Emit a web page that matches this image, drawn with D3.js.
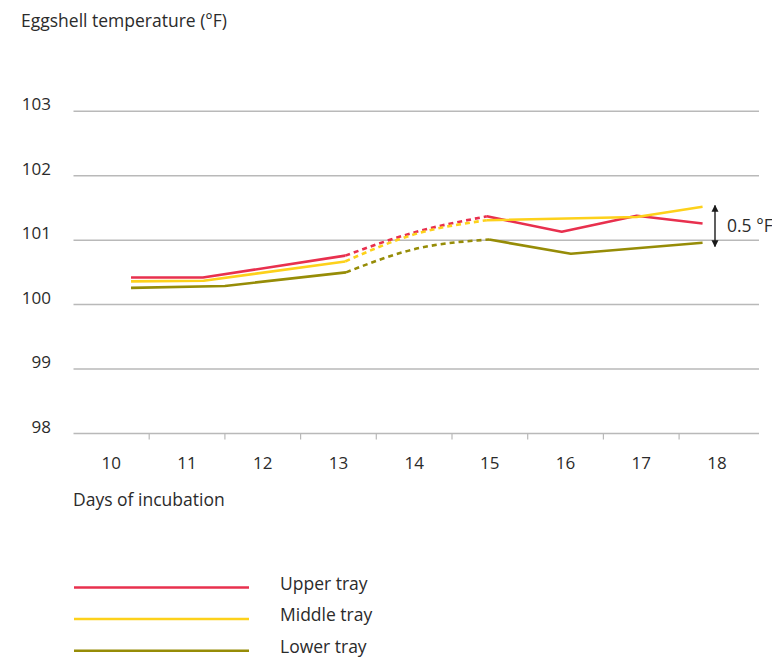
<!DOCTYPE html>
<html>
<head>
<meta charset="utf-8">
<script src="https://cdn.jsdelivr.net/npm/d3@7"></script>
<style>
  html, body { margin: 0; padding: 0; background: #fff; }
  svg text { font-family: "Open Sans", "Noto Sans", sans-serif; fill: #2b2b2b; }
</style>
</head>
<body>
<svg id="chart" width="772" height="658"></svg>
<script>
// ---- Data ----
const days = [10, 11, 12, 13, 14, 15, 16, 17, 18];
const yTicks = [98, 99, 100, 101, 102, 103];

const upperX = [10.26, 11.21, 13.09, 14.0, 14.96, 15.95, 16.94, 17.81];
const upperY = [100.42, 100.42, 100.76, 101.12, 101.37, 101.13, 101.38, 101.26];

const middleX = [10.26, 11.22, 13.09, 14.0, 14.96, 16.94, 17.81];
const middleY = [100.36, 100.37, 100.67, 101.09, 101.31, 101.36, 101.52];

const lowerX = [10.26, 11.5, 13.1, 14.0, 14.99, 16.07, 17.81];
const lowerY = [100.26, 100.29, 100.5, 100.86, 101.01, 100.79, 100.96];

// dotted segment (interpolated period) bounds in days
const dottedFrom = 13.12;
const dottedTo = 15.0;

const seriesNames = ["Upper tray", "Middle tray", "Lower tray"];
const seriesColors = ["#e8304e", "#fdd11b", "#968c07"];

const annotationTop = 101.54;
const annotationBottom = 100.9;
const annotationLabel = "0.5 °F";

// ---- Layout ----
const svg = d3.select("#chart");
const plotLeft = 73.5, plotRight = 754.8, gridRight = 759;
const fsNum = 17, fsText = 17.5;

const x = d3.scaleBand().domain(days).range([plotLeft, plotRight]);
const xLin = d3.scaleLinear()
  .domain([days[0], days[days.length - 1]])
  .range([x(days[0]) + x.bandwidth() / 2, x(days[days.length - 1]) + x.bandwidth() / 2]);
const y = d3.scaleLinear().domain([98, 103]).range([433.5, 111.3]);

// gridlines
svg.append("g").selectAll("line").data(yTicks).join("line")
  .attr("x1", plotLeft).attr("x2", gridRight)
  .attr("y1", d => y(d)).attr("y2", d => y(d))
  .attr("stroke", "#b9b9b9").attr("stroke-width", 1.5);

// y labels
svg.append("g").selectAll("text").data(yTicks).join("text")
  .attr("x", 51).attr("y", d => y(d) - 1)
  .attr("text-anchor", "end")
  .attr("font-size", fsNum)
  .text(d => d);

// x ticks at band boundaries (interior)
svg.append("g").selectAll("line").data(days.slice(1)).join("line")
  .attr("x1", d => x(d)).attr("x2", d => x(d))
  .attr("y1", y(98)).attr("y2", y(98) + 6)
  .attr("stroke", "#b9b9b9").attr("stroke-width", 1.2);

// x labels
svg.append("g").selectAll("text").data(days).join("text")
  .attr("x", d => x(d) + x.bandwidth() / 2)
  .attr("y", 469)
  .attr("text-anchor", "middle")
  .attr("font-size", fsNum)
  .text(d => d);

svg.append("text").attr("x", 21).attr("y", 27).attr("font-size", fsText)
  .text("Eggshell temperature (°F)");
svg.append("text").attr("x", 73).attr("y", 506).attr("font-size", fsText)
  .text("Days of incubation");

// lines
const seriesData = [
  upperX.map((d, i) => [d, upperY[i]]),
  middleX.map((d, i) => [d, middleY[i]]),
  lowerX.map((d, i) => [d, lowerY[i]])
];

const straight = d3.line().x(d => xLin(d[0])).y(d => y(d[1]));
const curved = d3.line().curve(d3.curveMonotoneX).x(d => xLin(d[0])).y(d => y(d[1]));

const gLines = svg.append("g");
seriesData.forEach((pts, si) => {
  const before = pts.filter(p => p[0] <= dottedFrom);
  const mid = pts.filter(p => p[0] >= dottedFrom && p[0] <= dottedTo);
  const after = pts.filter(p => p[0] >= dottedTo - 0.1);
  const midFull = [before[before.length - 1], ...mid];
  gLines.append("path").attr("d", straight(before))
    .attr("fill", "none").attr("stroke", seriesColors[si]).attr("stroke-width", 2.6)
    .attr("stroke-linejoin", "round");
  gLines.append("path").attr("d", curved(midFull))
    .attr("fill", "none").attr("stroke", seriesColors[si]).attr("stroke-width", 2.6)
    .attr("stroke-dasharray", "5,4");
  gLines.append("path").attr("d", straight(after))
    .attr("fill", "none").attr("stroke", seriesColors[si]).attr("stroke-width", 2.6)
    .attr("stroke-linejoin", "round");
});

// annotation arrow
const defs = svg.append("defs");
defs.append("marker").attr("id", "ah").attr("viewBox", "0 0 10 10")
  .attr("refX", 9).attr("refY", 5).attr("markerWidth", 7).attr("markerHeight", 8)
  .attr("markerUnits", "userSpaceOnUse")
  .attr("orient", "auto-start-reverse")
  .append("path").attr("d", "M0,0 L10,5 L0,10 Z").attr("fill", "#1a1a1a");
const ax = 715;
svg.append("line").attr("x1", ax).attr("x2", ax)
  .attr("y1", y(annotationTop)).attr("y2", y(annotationBottom))
  .attr("stroke", "#1a1a1a").attr("stroke-width", 1.4)
  .attr("marker-start", "url(#ah)").attr("marker-end", "url(#ah)");
svg.append("text").attr("x", 727).attr("y", (y(annotationTop) + y(annotationBottom)) / 2 + 6)
  .attr("font-size", fsText).text(annotationLabel);

// legend
const legend = svg.append("g");
seriesNames.forEach((name, i) => {
  const ly = 587.5 + i * 31.6;
  legend.append("line").attr("x1", 74).attr("x2", 249).attr("y1", ly).attr("y2", ly)
    .attr("stroke", seriesColors[i]).attr("stroke-width", 2.5);
  legend.append("text").attr("x", 280).attr("y", ly + 2).attr("font-size", fsText).text(name);
});
</script>
</body>
</html>
